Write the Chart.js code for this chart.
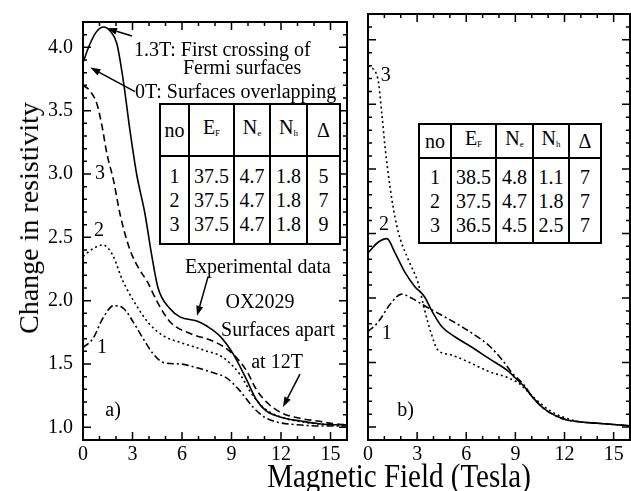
<!DOCTYPE html>
<html>
<head>
<meta charset="utf-8">
<script src="https://cdn.jsdelivr.net/npm/chart.js@4"></script>
<style>
  body { margin: 0; background: #fff; width: 631px; height: 491px; overflow: hidden; position: relative; font-family: "Liberation Serif", "Times New Roman", serif; }
  canvas { position: absolute; top: 0; }
  #leftCanvas { left: 0; }
  #rightCanvas { left: 357px; }
  .tbl { position: absolute; border-collapse: collapse; table-layout: fixed; background: #fff; font-size: 20px; text-align: center; }
  .tbl td { border: 2px solid #000; padding: 0; line-height: 24px; }
  .tbl sub { font-size: 9px; vertical-align: -2px; }
  #xTitle { position: absolute; left: 399px; top: 476px; transform: translate(-50%, -50%) scaleY(1.15); font-size: 29px; white-space: nowrap; }
  #yTitle { position: absolute; left: 29px; top: 218px; transform: translate(-50%, -50%) rotate(-90deg); font-size: 28px; white-space: nowrap; }
</style>
</head>
<body>
<canvas id="leftCanvas" width="357" height="491"></canvas>
<canvas id="rightCanvas" width="274" height="491"></canvas>

<table class="tbl" id="tableA" style="left:159px; top:103px; width:180px;">
  <colgroup><col style="width:29px"><col style="width:45px"><col style="width:36px"><col style="width:37px"><col style="width:33px"></colgroup>
  <tr style="height:52px"><td>no</td><td>E<sub>F</sub></td><td>N<sub>e</sub></td><td>N<sub>h</sub></td><td>&Delta;</td></tr>
  <tr style="height:88px"><td>1<br>2<br>3</td><td>37.5<br>37.5<br>37.5</td><td>4.7<br>4.7<br>4.7</td><td>1.8<br>1.8<br>1.8</td><td>5<br>7<br>9</td></tr>
</table>

<table class="tbl" id="tableB" style="left:418px; top:123px; width:182px;">
  <colgroup><col style="width:32px"><col style="width:45px"><col style="width:37px"><col style="width:36px"><col style="width:32px"></colgroup>
  <tr style="height:34px"><td>no</td><td>E<sub>F</sub></td><td>N<sub>e</sub></td><td>N<sub>h</sub></td><td>&Delta;</td></tr>
  <tr style="height:85px"><td>1<br>2<br>3</td><td>38.5<br>37.5<br>36.5</td><td>4.8<br>4.7<br>4.5</td><td>1.1<br>1.8<br>2.5</td><td>7<br>7<br>7</td></tr>
</table>

<div id="xTitle">Magnetic Field (Tesla)</div>
<div id="yTitle">Change in resistivity</div>

<script>
// axis ticks
const xTicks = [0, 3, 6, 9, 12, 15];
const yTicks = [1.0, 1.5, 2.0, 2.5, 3.0, 3.5, 4.0];

// panel a) -- experimental curve and three model curves
const expA_x = [0, 0.4, 0.8, 1.25, 1.7, 2.05, 2.45, 2.85, 3.25, 3.75, 4.15, 4.55, 5.25, 5.9, 6.9, 7.5, 8.3, 9.1, 9.9, 10.5, 11.1, 12.3, 13.2, 14.2, 15.1, 16];
const expA_y = [3.88, 4.02, 4.12, 4.16, 4.12, 4.03, 3.73, 3.34, 3.0, 2.69, 2.37, 2.10, 1.94, 1.87, 1.84, 1.80, 1.72, 1.58, 1.38, 1.22, 1.13, 1.07, 1.05, 1.03, 1.02, 1.02];

const a3_x = [0, 0.4, 0.85, 1.15, 1.45, 1.85, 2.25, 2.85, 3.4, 3.9, 4.5, 5.3, 6.5, 7.9, 8.9, 9.9, 10.5, 11.2, 12.1, 13.2, 14.2, 15.1, 16];
const a3_y = [3.70, 3.66, 3.55, 3.38, 3.16, 2.95, 2.68, 2.40, 2.25, 2.15, 1.99, 1.83, 1.74, 1.68, 1.60, 1.45, 1.30, 1.19, 1.11, 1.07, 1.05, 1.03, 1.02];

const a2_x = [0, 0.6, 1.2, 1.8, 2.4, 3.2, 4.0, 4.9, 5.9, 7.3, 8.5, 9.5, 10.3, 11.0, 12.0, 13.0, 14.0, 15.0, 16];
const a2_y = [2.35, 2.41, 2.44, 2.36, 2.16, 1.97, 1.82, 1.72, 1.67, 1.61, 1.55, 1.42, 1.25, 1.15, 1.08, 1.05, 1.03, 1.02, 1.01];

const a1_x = [0, 0.6, 1.2, 1.85, 2.45, 3.05, 3.65, 4.25, 4.9, 5.9, 6.9, 7.9, 8.7, 9.5, 10.3, 11.0, 11.8, 13.0, 14.5, 16];
const a1_y = [1.63, 1.70, 1.86, 1.96, 1.94, 1.83, 1.70, 1.58, 1.51, 1.50, 1.47, 1.43, 1.39, 1.29, 1.16, 1.08, 1.04, 1.02, 1.01, 1.01];

// panel b) -- three model curves
const b3_x = [0, 0.6, 0.85, 1.05, 1.45, 1.85, 2.45, 3.05, 3.45, 3.85, 4.25, 5.05, 6.2, 7.4, 8.6, 9.2, 10.2, 11.2, 12.6, 14, 16];
const b3_y = [3.80, 3.70, 3.42, 3.16, 2.77, 2.51, 2.30, 2.12, 1.91, 1.73, 1.60, 1.56, 1.50, 1.43, 1.38, 1.34, 1.22, 1.12, 1.05, 1.03, 1.01];

const b2_x = [0, 0.6, 1.15, 1.65, 2.25, 2.85, 3.45, 3.9, 4.5, 5.3, 6.2, 7.4, 8.6, 9.0, 9.5, 10.0, 10.5, 11.0, 12.0, 13.0, 14.0, 16];
const b2_y = [2.35, 2.43, 2.46, 2.35, 2.20, 2.09, 2.01, 1.90, 1.78, 1.70, 1.63, 1.53, 1.43, 1.38, 1.32, 1.24, 1.17, 1.12, 1.06, 1.04, 1.03, 1.01];

const b1_x = [0, 0.6, 1.4, 2.05, 2.65, 3.45, 4.45, 5.7, 6.9, 7.4, 8.2, 8.8, 9.5, 10.0, 10.5, 11.0, 12.0, 13.0, 14.0, 16];
const b1_y = [1.74, 1.81, 1.96, 2.03, 2.00, 1.94, 1.87, 1.78, 1.68, 1.63, 1.52, 1.42, 1.33, 1.24, 1.17, 1.12, 1.06, 1.04, 1.03, 1.01];

// text notes [text, x, y, align] and arrows [fromX, fromY, toX, toY], in data units
const notesA = [
    ['1.3T: First crossing of', 3.09, 3.97, 'left'],
    ['Fermi surfaces', 9.64, 3.83, 'center'],
    ['0T: Surfaces overlapping', 3.15, 3.64, 'left'],
    ['Experimental data', 10.6, 2.26, 'center'],
    ['OX2029', 10.73, 1.98, 'center'],
    ['Surfaces apart', 11.82, 1.76, 'center'],
    ['at 12T', 11.76, 1.51, 'center'],
    ['3', 1.03, 3.0, 'center'],
    ['2', 0.97, 2.55, 'center'],
    ['1', 1.15, 1.63, 'center'],
    ['a)', 1.82, 1.13, 'center']
];
const arrowsA = [
    [2.97, 4.09, 1.45, 4.15],
    [3.15, 3.65, 0.45, 3.84],
    [7.58, 2.19, 6.91, 1.88],
    [13.15, 1.42, 12.12, 1.16]
];
const notesB = [
    ['3', 1.09, 3.72, 'center'],
    ['2', 0.97, 2.57, 'center'],
    ['1', 1.15, 1.72, 'center'],
    ['b)', 2.3, 1.13, 'center']
];

const FONT = '"Liberation Serif", "Times New Roman", serif';

function toPoints(xs, ys) {
    return xs.map((x, i) => ({ x: x, y: ys[i] }));
}

function curve(xs, ys, dash) {
    return {
        data: toPoints(xs, ys),
        borderColor: '#000',
        borderWidth: 1.6,
        borderDash: dash,
        pointRadius: 0,
        fill: false,
        cubicInterpolationMode: 'monotone'
    };
}

// frame, inward ticks on all four sides, notes and arrows
const framePlugin = {
    id: 'frame',
    afterDraw(chart, args, opts) {
        const { ctx, chartArea: a, scales: { x, y } } = chart;
        ctx.save();
        ctx.strokeStyle = '#000';
        ctx.lineWidth = 1.5;
        ctx.beginPath();
        for (let v = 0; v <= 16; v++) {
            const px = x.getPixelForValue(v);
            const len = v % 3 === 0 ? 8 : 4;
            ctx.moveTo(px, a.bottom); ctx.lineTo(px, a.bottom - len);
            ctx.moveTo(px, a.top); ctx.lineTo(px, a.top + len);
        }
        for (let i = 10; i <= 41; i++) {
            const py = y.getPixelForValue(i / 10);
            const len = i % 5 === 0 ? 8 : 4;
            ctx.moveTo(a.left, py); ctx.lineTo(a.left + len, py);
            ctx.moveTo(a.right, py); ctx.lineTo(a.right - len, py);
        }
        ctx.stroke();
        ctx.lineWidth = 2;
        ctx.strokeRect(a.left, a.top, a.right - a.left, a.bottom - a.top);

        ctx.fillStyle = '#000';
        ctx.font = '20px ' + FONT;
        ctx.textBaseline = 'middle';
        (opts.notes || []).forEach(n => {
            ctx.textAlign = n[3];
            ctx.fillText(n[0], x.getPixelForValue(n[1]), y.getPixelForValue(n[2]));
        });

        ctx.lineWidth = 1.5;
        (opts.arrows || []).forEach(r => {
            const x0 = x.getPixelForValue(r[0]), y0 = y.getPixelForValue(r[1]);
            const x1 = x.getPixelForValue(r[2]), y1 = y.getPixelForValue(r[3]);
            const ang = Math.atan2(y1 - y0, x1 - x0);
            const hl = 10, hw = 3.5;
            const bx = x1 - hl * Math.cos(ang), by = y1 - hl * Math.sin(ang);
            ctx.beginPath();
            ctx.moveTo(x0, y0); ctx.lineTo(bx, by);
            ctx.stroke();
            ctx.beginPath();
            ctx.moveTo(x1, y1);
            ctx.lineTo(bx + hw * Math.sin(ang), by - hw * Math.cos(ang));
            ctx.lineTo(bx - hw * Math.sin(ang), by + hw * Math.cos(ang));
            ctx.closePath();
            ctx.fill();
        });
        ctx.restore();
    }
};

function makePanel(id, datasets, showY, padLeft, padRight, notes, arrows) {
    return new Chart(document.getElementById(id), {
        type: 'line',
        data: { datasets: datasets },
        options: {
            responsive: false,
            animation: false,
            layout: { padding: { left: padLeft, right: padRight, top: 14, bottom: 0 } },
            plugins: {
                legend: { display: false },
                tooltip: { enabled: false },
                frame: { notes: notes, arrows: arrows }
            },
            scales: {
                x: {
                    type: 'linear',
                    min: 0,
                    max: 16,
                    afterBuildTicks: s => { s.ticks = xTicks.map(v => ({ value: v })); },
                    afterFit: s => { s.height = 51; },
                    grid: { display: false, drawTicks: false },
                    border: { display: false },
                    ticks: { color: '#000', padding: 3, maxRotation: 0, font: { family: FONT, size: 20 } }
                },
                y: {
                    type: 'linear',
                    display: showY,
                    min: 0.9,
                    max: 4.2,
                    afterBuildTicks: s => { s.ticks = yTicks.map(v => ({ value: v })); },
                    afterFit: s => { s.width = showY ? 83 : 0; },
                    grid: { display: false, drawTicks: false },
                    border: { display: false },
                    ticks: { color: '#000', padding: 10, callback: v => v.toFixed(1), font: { family: FONT, size: 20 } }
                }
            }
        },
        plugins: [framePlugin]
    });
}

function drawAll() {
    makePanel('leftCanvas', [
        curve(expA_x, expA_y, []),
        curve(a3_x, a3_y, [7, 4]),
        curve(a2_x, a2_y, [2, 3]),
        curve(a1_x, a1_y, [7, 3, 2, 3])
    ], true, 0, 10, notesA, arrowsA);

    makePanel('rightCanvas', [
        curve(b3_x, b3_y, [2, 3]),
        curve(b2_x, b2_y, []),
        curve(b1_x, b1_y, [7, 3, 2, 3])
    ], false, 11, 1, notesB, []);
}

// canvas text needs the serif face loaded first
document.fonts.load('20px "Liberation Serif"').then(drawAll, drawAll);
</script>
</body>
</html>
